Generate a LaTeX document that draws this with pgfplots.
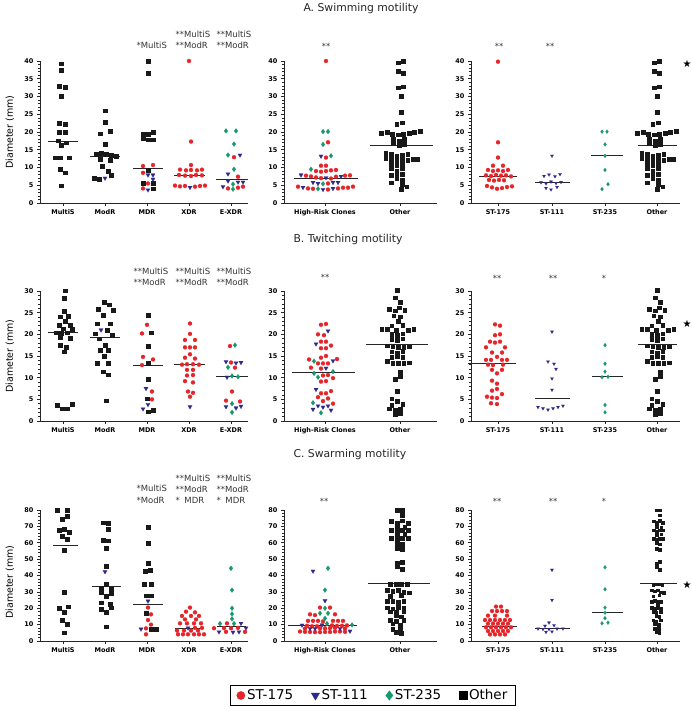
\documentclass[border=0pt]{standalone}
\usepackage{fontspec}
\setmainfont{DejaVu Sans}
\usepackage{pgfplots}
\pgfplotsset{compat=1.18}
\usepackage{pgfplotstable}
\definecolor{stred}{HTML}{E5252A}
\definecolor{stblue}{HTML}{2E2A8A}
\definecolor{stgreen}{HTML}{169A6C}
\newcommand\tlf{\fontsize{6.5}{7}\selectfont\bfseries}
\newcommand\anf{\fontsize{8.5}{9}\selectfont}
\newcommand\ttf{\fontsize{10.8}{12}\selectfont}

\pgfplotsset{
  panel/.style={
    scale only axis, anchor=south west, clip=false,
    axis x line=bottom, axis y line=left,
    axis line style={-, line width=0.8pt, black!85},
    tick align=outside, major tick length=3pt, minor tick length=1.7pt,
    every tick/.append style={black!85, line width=0.6pt},
    every minor tick/.append style={black!85, line width=0.5pt},
    ymin=0, minor x tick num=0,
    /pgf/number format/assume math mode=true,
    tick label style={font=\tlf},
    ylabel style={font=\fontsize{9.5}{11}\selectfont, at={(axis description cs:-0.145,0.5)}, anchor=center},
  },
  ptR/.style={only marks, mark=*, mark size=2.05pt, color=stred, mark options={line width=0.1pt}},
  ptB/.style={only marks, mark=triangle*, mark size=2.5pt, color=stblue, mark options={rotate=180, line width=0.1pt}},
  ptBs/.style={only marks, mark=triangle*, mark size=1.9pt, color=stblue, mark options={rotate=180, line width=0.1pt}},
  ptG/.style={only marks, mark=diamond*, mark size=2.5pt, color=stgreen, mark options={line width=0.1pt}},
  ptGs/.style={only marks, mark=diamond*, mark size=2.0pt, color=stgreen, mark options={line width=0.1pt}},
  ptK/.style={only marks, mark=square*, mark size=1.85pt, color=black!90, mark options={line width=0.1pt}},
  ptKs/.style={only marks, mark=square*, mark size=1.3pt, color=black!90, mark options={line width=0.1pt}},
  med/.style={black!85, line width=1pt, no marks},
}

\pgfplotstableread{
dx y
2 40.0
-3 39.6
-3 37.2
2 36.7
-3 32.5
2 32.8
0 30.1
0 25.7
-4 22.3
1 22.7
-18 19.8
-13 19.9
-8 19.5
-3 19.3
2 19.5
7 19.8
12 19.9
17 20.2
-7 18.0
-2 17.5
3 18.0
-7 16.8
-2 16.3
3 16.6
-14 14.0
-9 13.8
-4 13.2
1 13.5
6 13.8
-14 12.6
-9 12.3
-4 12.1
1 12.3
6 12.1
11 12.4
15 12.4
-9 11.0
-4 10.7
1 11.2
-9 9.7
1 9.8
-4 9.1
-9 7.9
-4 8.4
1 8.2
-4 7.0
1 6.5
-9 5.8
1 5.4
0 3.9
5 4.6
}\otherA

\pgfplotstableread{
dx y
-1 30.2
-3 28.5
2 27.4
1 26.2
-8 25.8
-3 25.5
6 25.6
-4 24.3
2 24.1
0 23.1
-6 22.0
4 22.2
-15 21.2
-10 21.2
-2 21.0
9 21.0
14 21.2
-6 20.1
4 20.2
-1 19.9
-6 18.9
-1 18.7
4 19.0
-10 17.4
-5 17.2
0 17.0
5 17.0
10 17.2
-6 16.0
-1 15.8
4 16.2
-6 14.8
-1 14.9
4 14.8
-10 13.9
-5 13.3
0 13.3
5 13.3
10 13.5
2 11.4
2 10.4
-3 9.6
-1 6.9
-6 5.2
-1 4.6
-6 3.7
4 3.9
-8 2.9
-3 2.6
2 2.9
-3 1.5
2 1.9
}\otherB

\pgfplotstableread{
dx y
-2 80
3 80
3 77
-7 73.3
-2 72.2
3 73.5
8 72.2
-2 69.8
5 69.4
-7 67.8
-2 66.9
3 67.8
8 67.8
-2 64.9
5 65.3
-7 62.7
-2 62.1
3 62.7
8 62.7
-2 59.7
3 59.2
-2 56.6
3 56.0
-2 47.4
3 48.4
-2 45.4
3 43.8
-8 34.6
-3 34.8
2 34.8
7 34.6
-11 31.1
-6 30.5
-1 31.1
4 30.0
9 29.5
-8 27.5
2 28.0
-11 24.2
-6 24.6
-1 24.0
4 24.2
-1 22.0
-11 20.5
-6 19.8
-1 20.5
4 20.0
-8 18.0
-3 17.6
4 18.0
-3 15.5
2 15.0
-8 12.8
-3 12.0
4 12.8
-6 10.6
1 10.0
-6 7.5
1 7.7
-3 5.5
2 5.0
}\otherC

\begin{document}
\begin{tikzpicture}
\useasboundingbox (0pt,0pt) rectangle (691pt,707pt);

% ---------------- titles ----------------
\node[anchor=west, font=\ttf, text=black!85] at (300pt,698pt) {A. Swimming motility};
\node[anchor=west, font=\ttf, text=black!85] at (290pt,467pt) {B. Twitching motility};
\node[anchor=west, font=\ttf, text=black!85] at (290pt,252pt) {C. Swarming motility};

% ================= ROW A =================
\begin{axis}[panel, at={(40pt,504pt)}, width=208pt, height=142pt,
  xmin=40, xmax=248, ymax=40, ytick={0,5,...,40}, minor y tick num=4,
  xtick={63,105,147,189,231}, xticklabels={MultiS,ModR,MDR,XDR,E-XDR},
  ylabel={Diameter (mm)}]
\addplot[ptK] coordinates {(61,39.3)(61,37.4)(59,33.0)(65,32.6)(61,30.2)(59,22.5)(65,22.3)(59,19.9)(65,19.9)(58,17.6)(66,17.0)(61,16.3)(55,12.8)(60,12.8)(69,12.8)(60,9.5)(65,8.6)(61,4.9)};
\addplot[ptK] coordinates {(105,26.0)(105,22.9)(100,19.6)(110,20.3)(105,16.6)(96,13.8)(101,14.0)(106,13.8)(111,13.6)(116,13.2)(100,12.3)(110,12.0)(102,10.4)(108,9.0)(111,7.9)(94,7.1)(99,6.7)};
\addplot[ptB] coordinates {(105,7.0)};
\addplot[ptK] coordinates {(148,40.0)(148,36.6)(143,19.6)(148,19.4)(153,19.9)(143,18.2)(148,17.9)(153,17.9)(148,9.3)(143,5.7)(153,5.7)(153,4.1)};
\addplot[ptR] coordinates {(143,10.4)(153,10.7)(143,8.5)(148,5.5)(143,4.1)};
\addplot[ptB] coordinates {(148,7.9)(153,7.9)(153,6.7)(148,3.7)};
\addplot[ptR] coordinates {(189,40.0)(191,17.3)(191,10.7)(180,9.4)(186,9.2)(191,9.3)(197,9.2)(202,9.4)(179,7.9)(185,7.7)(196,7.9)(202,7.8)(191,7.6)(175,4.9)(180,4.7)(185,4.8)(195,4.6)(200,4.8)(205,4.9)};
\addplot[ptB] coordinates {(190,4.4)};
\addplot[ptG] coordinates {(226,20.3)(236,20.3)(234,16.6)(228,13.5)(234,9.5)(233,5.3)(233,3.9)};
\addplot[ptR] coordinates {(234,12.9)(238,7.4)(228,4.1)(238,4.3)(243,4.6)};
\addplot[ptB] coordinates {(240,13.5)(228,8.2)(228,6.2)(238,5.9)(243,5.9)(223,4.6)};
\addplot[med] coordinates {(48,17.3)(78,17.3)};
\addplot[med] coordinates {(90,13.2)(120,13.2)};
\addplot[med] coordinates {(133,9.8)(163,9.8)};
\addplot[med] coordinates {(174,7.8)(205,7.8)};
\addplot[med] coordinates {(216,6.5)(248,6.5)};
\end{axis}

\begin{axis}[panel, at={(284pt,504pt)}, width=153pt, height=142pt,
  xmin=284, xmax=437, ymax=40, ytick={0,5,...,40}, minor y tick num=4,
  xtick={325,400}, xticklabels={High-Risk Clones,Other}]
\addplot[ptR] coordinates {(326,40)(328,17.1)(326,12.8)(321,10.5)(326,10.5)(316,9.0)(321,8.8)(326,9.0)(331,9.2)(336,9.3)(306,7.7)(311,7.5)(316,7.2)(321,7.0)(331,6.9)(336,7.4)(345,7.7)(350,7.8)(328,5.5)(298,4.6)(308,4.1)(313,4.0)(328,3.8)(338,4.1)(343,4.3)(348,4.3)(353,4.6)};
\addplot[ptB] coordinates {(321,13.2)(301,7.9)(341,7.5)(326,7.1)(313,5.8)(318,5.5)(333,5.8)(338,5.8)(303,4.4)(323,3.8)(333,4.1)};
\addplot[ptG] coordinates {(323,20.1)(328,20.1)(323,16.5)(331,13.3)(311,9.5)(323,5.4)(318,4.0)};
\addplot[ptK] table[x expr=1.1*\thisrow{dx}+401, y=y] {\otherA};
\addplot[med] coordinates {(294,7.0)(358,7.0)};
\addplot[med] coordinates {(370,16.1)(433,16.1)};
\end{axis}

\begin{axis}[panel, at={(471pt,504pt)}, width=209pt, height=142pt,
  xmin=471, xmax=680, ymax=40, ytick={0,5,...,40}, minor y tick num=4,
  xtick={498,552,605,657}, xticklabels={ST-175,ST-111,ST-235,Other}]
\addplot[ptR] coordinates {(498,39.8)(498,17.1)(498,12.8)(493,10.5)(503,10.5)(488,9.3)(493,9.0)(498,9.2)(503,9.0)(508,9.3)(486,7.8)(491,7.6)(496,7.9)(501,7.7)(506,7.8)(511,7.5)(489,6.5)(494,6.3)(499,6.5)(504,6.4)(487,4.8)(492,4.4)(497,4.0)(502,4.2)(507,4.5)(512,4.7)};
\addplot[ptBs] coordinates {(552,13.3)(544,7.6)(549,8.0)(555,7.5)(560,8.1)(541,5.8)(546,5.5)(551,6.0)(556,5.6)(561,5.9)(546,4.2)(551,3.8)(557,4.5)};
\addplot[ptGs] coordinates {(602,20.1)(607,20.1)(605,16.5)(605,13.3)(605,9.3)(608,5.3)(602,3.9)};
\addplot[ptK] table[x expr=1.1*\thisrow{dx}+657, y=y] {\otherA};
\addplot[med] coordinates {(479,7.4)(517,7.4)};
\addplot[med] coordinates {(535,5.8)(570,5.8)};
\addplot[med] coordinates {(591,13.3)(623,13.3)};
\addplot[med] coordinates {(638,16.1)(677,16.1)};
\end{axis}

\node[anchor=west, font=\anf, text=black!80] at (133pt,662pt) {*MultiS};
\node[anchor=west, font=\anf, text=black!80] at (172pt,673pt) {**MultiS};
\node[anchor=west, font=\anf, text=black!80] at (172pt,662pt) {**ModR};
\node[anchor=west, font=\anf, text=black!80] at (213pt,673pt) {**MultiS};
\node[anchor=west, font=\anf, text=black!80] at (213pt,662pt) {**ModR};
\node[font=\anf, text=black!80] at (326pt,661pt) {**};
\node[font=\anf, text=black!80] at (499pt,661pt) {**};
\node[font=\anf, text=black!80] at (550pt,661pt) {**};
\node[font=\fontsize{10}{11}\selectfont] at (687pt,643pt) {★};

% ================= ROW B =================
\begin{axis}[panel, at={(40pt,286pt)}, width=208pt, height=130pt,
  xmin=40, xmax=248, ymax=30, ytick={0,5,...,30}, minor y tick num=4,
  xtick={63,105,147,189,231}, xticklabels={MultiS,ModR,MDR,XDR,E-XDR},
  ylabel={Diameter (mm)}]
\addplot[ptK] coordinates {(65,30.1)(64,28.4)(64,25.4)(60,24.1)(68,24.2)(65,23.1)(59,22.1)(70,22.1)(63,21.3)(72,21.2)(56,20.4)(61,20.3)(67,20.4)(60,19.3)(70,19.1)(60,17.5)(66,17.1)(64,16.0)(57,3.7)(62,2.9)(67,2.9)(72,3.9)};
\addplot[ptK] coordinates {(104,27.5)(109,26.9)(98,25.8)(113,25.6)(103,24.5)(97,22.5)(110,22.5)(107,21.0)(95,20.2)(112,19.9)(99,19.0)(105,17.5)(100,16.4)(108,16.4)(104,15.0)(97,13.3)(108,13.3)(103,11.4)(108,10.7)(106,4.7)};
\addplot[ptB] coordinates {(101,21.0)};
\addplot[ptK] coordinates {(148,24.5)(151,20.4)(148,17.3)(148,13.3)(148,9.7)(147,5.2)(148,2.2)(153,2.5)};
\addplot[ptR] coordinates {(147,22.2)(142,20.2)(143,14.8)(153,14.2)(142,12.9)(152,6.8)(152,5.0)};
\addplot[ptB] coordinates {(146,7.5)(143,2.8)(148,3.8)};
\addplot[ptR] coordinates {(190,22.5)(190,20.1)(185,18.7)(195,18.7)(185,17.0)(190,17.0)(195,17.0)(190,15.4)(185,14.6)(195,14.4)(182,13.0)(187,13.1)(193,13.1)(199,13.0)(187,11.8)(193,11.8)(187,10.5)(193,10.6)(185,9.2)(193,8.9)(188,6.8)(193,6.5)(190,5.6)};
\addplot[ptB] coordinates {(190,3.3)};
\addplot[ptG] coordinates {(235,17.5)(228,12.4)(232,10.4)(238,10.2)(232,4.0)(232,2.0)};
\addplot[ptR] coordinates {(230,17.3)(231,13.5)(235,12.3)(232,6.8)(226,4.7)(240,4.5)};
\addplot[ptB] coordinates {(226,13.7)(236,13.4)(241,13.5)(227,10.1)(226,3.3)(236,3.0)(241,3.4)};
\addplot[med] coordinates {(48,20.4)(78,20.4)};
\addplot[med] coordinates {(90,19.3)(120,19.3)};
\addplot[med] coordinates {(133,12.9)(163,12.9)};
\addplot[med] coordinates {(174,13.0)(205,13.0)};
\addplot[med] coordinates {(216,10.2)(248,10.2)};
\end{axis}

\begin{axis}[panel, at={(284pt,286pt)}, width=153pt, height=130pt,
  xmin=284, xmax=437, ymax=30, ytick={0,5,...,30}, minor y tick num=4,
  xtick={325,400}, xticklabels={High-Risk Clones,Other}]
\addplot[ptR] coordinates {(321,22.2)(326,22.4)(318,20.0)(324,19.8)(321,18.3)(326,18.3)(331,17.4)(321,16.8)(326,16.8)(326,15.0)(321,14.6)(309,14.2)(337,14.3)(318,13.3)(323,13.3)(328,13.3)(311,12.3)(321,12.1)(323,10.5)(328,10.6)(333,9.9)(321,9.1)(326,9.2)(331,6.9)(321,6.4)(326,6.4)(318,5.5)(328,5.2)(323,4.6)(333,4.0)};
\addplot[ptB] coordinates {(328,20.8)(316,17.8)(333,13.9)(326,12.2)(316,7.3)(318,3.5)(323,3.2)(328,3.5)(331,2.5)(313,2.7)};
\addplot[ptG] coordinates {(314,13.8)(314,11.0)(333,11.4)(318,10.1)(313,4.2)(321,1.9)};
\addplot[ptK] table[x expr=1.1*\thisrow{dx}+398, y=y] {\otherB};
\addplot[med] coordinates {(292,11.2)(355,11.2)};
\addplot[med] coordinates {(366,17.7)(428,17.7)};
\end{axis}

\begin{axis}[panel, at={(471pt,286pt)}, width=209pt, height=130pt,
  xmin=471, xmax=680, ymax=30, ytick={0,5,...,30}, minor y tick num=4,
  xtick={498,552,605,657}, xticklabels={ST-175,ST-111,ST-235,Other}]
\addplot[ptR] coordinates {(495,22.3)(500,22.0)(495,19.8)(500,20.0)(490,18.3)(495,18.1)(500,18.3)(486,17.0)(505,17.0)(492,15.8)(502,15.8)(497,14.8)(486,14.1)(491,14.1)(502,14.1)(507,14.1)(488,13.0)(493,12.9)(503,13.0)(492,11.8)(502,11.8)(497,11.0)(492,9.3)(497,8.6)(497,7.4)(492,7.0)(502,6.2)(487,5.6)(492,5.4)(497,5.3)(491,4.1)(497,3.9)};
\addplot[ptBs] coordinates {(552,20.6)(548,13.7)(554,13.2)(556,12.0)(552,9.8)(552,7.2)(538,3.2)(543,2.9)(548,2.6)(553,2.9)(558,3.2)(563,3.5)};
\addplot[ptGs] coordinates {(605,17.5)(605,13.2)(605,11.4)(602,10.1)(608,10.2)(605,3.7)(605,2.0)};
\addplot[ptK] table[x expr=1.1*\thisrow{dx}+658, y=y] {\otherB};
\addplot[med] coordinates {(468,13.2)(516,13.2)};
\addplot[med] coordinates {(535,5.2)(570,5.2)};
\addplot[med] coordinates {(592,10.2)(623,10.2)};
\addplot[med] coordinates {(638,17.6)(677,17.6)};
\end{axis}

\node[anchor=west, font=\anf, text=black!80] at (130pt,436pt) {**MultiS};
\node[anchor=west, font=\anf, text=black!80] at (130pt,425pt) {**ModR};
\node[anchor=west, font=\anf, text=black!80] at (172pt,436pt) {**MultiS};
\node[anchor=west, font=\anf, text=black!80] at (172pt,425pt) {**ModR};
\node[anchor=west, font=\anf, text=black!80] at (213pt,436pt) {**MultiS};
\node[anchor=west, font=\anf, text=black!80] at (213pt,425pt) {**ModR};
\node[font=\anf, text=black!80] at (325pt,430pt) {**};
\node[font=\anf, text=black!80] at (497pt,429pt) {**};
\node[font=\anf, text=black!80] at (553pt,429pt) {**};
\node[font=\anf, text=black!80] at (604pt,429pt) {*};
\node[font=\fontsize{10}{11}\selectfont] at (687pt,383pt) {★};

% ================= ROW C =================
\begin{axis}[panel, at={(40pt,66pt)}, width=208pt, height=131pt,
  xmin=40, xmax=248, ymax=80, ytick={0,10,...,80}, minor y tick num=4,
  xtick={63,105,147,189,231}, xticklabels={MultiS,ModR,MDR,XDR,E-XDR},
  ylabel={Diameter (mm)}, ylabel style={at={(axis description cs:-0.145,0.45)}}]
\addplot[ptK] coordinates {(57,80)(67,80)(67,76.3)(62,74.3)(59,67.8)(64,68.4)(69,66.7)(62,64.0)(67,62.3)(64,55.6)(64,30.1)(59,20.0)(68,21.0)(64,17.6)(62,12.8)(67,10.4)(64,5.1)};
\addplot[ptK] coordinates {(103,72.3)(108,71.9)(108,68.2)(103,61.7)(108,61.3)(106,56.6)(106,45.8)(106,34.8)(101,32.2)(111,31.9)(101,29.5)(111,29.3)(106,27.3)(101,23.5)(110,22.5)(101,19.4)(111,20.4)(106,17.6)(106,8.8)};
\addplot[ptB] coordinates {(105,42.3)};
\addplot[ptK] coordinates {(148,69.8)(148,59.7)(148,47.8)(145,42.7)(150,43.3)(144,34.6)(151,34.6)(146,27.7)(151,27.7)(146,16.9)(151,7.3)(156,7.3)};
\addplot[ptB] coordinates {(148,24.4)(141,7.3)};
\addplot[ptR] coordinates {(148,20.4)(151,16.3)(148,12.8)(151,10.0)(146,7.7)(146,4.1)};
\addplot[ptR] coordinates {(190,20.4)(186,17.9)(195,17.5)(182,15.3)(191,15.3)(199,15.3)(185,13.2)(196,13.2)(180,10.8)(187,10.8)(194,10.8)(201,10.8)(195,8.0)(202,8.0)(177,6.4)(184,6.4)(191,6.4)(198,6.4)(178,4.1)(183,4.1)(188,4.1)(194,4.1)(199,4.1)(204,4.1)};
\addplot[ptB] coordinates {(188,8.0)};
\addplot[ptG] coordinates {(231,44.4)(232,31.1)(232,20.0)(232,16.5)(232,13.5)(220,10.6)(234,10.6)};
\addplot[ptR] coordinates {(227,10.8)(214,7.8)(224,7.9)(231,7.8)(238,8.0)(226,5.6)(245,5.6)};
\addplot[ptB] coordinates {(241,10.8)(246,8.0)(219,5.6)(233,5.4)(239,5.6)};
\addplot[med] coordinates {(53,58.6)(78,58.6)};
\addplot[med] coordinates {(92,33.2)(121,33.2)};
\addplot[med] coordinates {(133,22.0)(163,22.0)};
\addplot[med] coordinates {(175,7.7)(204,7.7)};
\addplot[med] coordinates {(217,8.8)(246,8.8)};
\end{axis}

\begin{axis}[panel, at={(284pt,66pt)}, width=153pt, height=131pt,
  xmin=284, xmax=437, ymax=80, ytick={0,10,...,80}, minor y tick num=4,
  xtick={325,400}, xticklabels={High-Risk Clones,Other}]
\addplot[ptR] coordinates {(320,20.4)(330,20.4)(310,16.3)(315,15.8)(335,16.3)(308,12.3)(313,12.3)(318,12.3)(323,12.0)(333,12.3)(338,12.3)(343,12.3)(307,9.3)(312,9.0)(317,9.0)(332,9.5)(337,9.2)(342,9.3)(347,9.5)(305,7.6)(320,7.8)(325,7.8)(330,7.9)(335,8.0)(345,7.6)(300,5.8)(305,5.6)(310,5.5)(315,5.4)(320,5.4)(325,5.5)(330,5.5)(335,5.8)(340,5.8)(345,5.6)};
\addplot[ptB] coordinates {(313,42.7)(325,24.6)(302,9.7)(322,9.8)(310,7.6)(315,7.6)(340,7.6)(350,6.0)};
\addplot[ptG] coordinates {(328,44.4)(325,31.1)(325,20.0)(320,16.9)(328,16.9)(325,13.8)(327,10.6)(352,9.8)};
\addplot[ptK] table[x expr=1.1*\thisrow{dx}+399, y=y] {\otherC};
\addplot[med] coordinates {(288,9.4)(357,9.4)};
\addplot[med] coordinates {(368,35.2)(430,35.2)};
\end{axis}

\begin{axis}[panel, at={(471pt,66pt)}, width=209pt, height=131pt,
  xmin=471, xmax=680, ymax=80, ytick={0,10,...,80}, minor y tick num=4,
  xtick={498,552,605,657}, xticklabels={ST-175,ST-111,ST-235,Other}]
\addplot[ptR] coordinates {(496,21.0)(501,21.0)(492,18.3)(497,18.3)(502,18.3)(507,18.3)(488,15.5)(495,15.5)(507,15.5)(485,12.8)(490,12.8)(495,12.8)(500,12.8)(505,12.8)(510,12.8)(488,10.6)(493,10.6)(498,10.6)(503,10.6)(508,10.6)(486,8.4)(491,8.4)(496,8.4)(501,8.4)(506,8.4)(511,8.4)(488,6.1)(493,6.1)(498,6.1)(503,6.1)(508,6.1)(490,4.0)(495,4.0)(500,4.0)(505,4.0)};
\addplot[ptBs] coordinates {(552,43.4)(552,25.0)(549,11.2)(545,9.2)(554,9.6)(538,7.5)(543,7.3)(549,7.2)(557,7.5)(563,7.6)(546,5.5)(552,5.8)};
\addplot[ptGs] coordinates {(605,45.0)(605,31.6)(605,20.4)(605,17.3)(605,13.9)(602,10.8)(608,11.2)};
\addplot[ptKs] table[x expr=0.6*\thisrow{dx}+658, y=y] {\otherC};
\addplot[med] coordinates {(482,8.8)(517,8.8)};
\addplot[med] coordinates {(535,7.7)(570,7.7)};
\addplot[med] coordinates {(592,17.1)(623,17.1)};
\addplot[med] coordinates {(640,35.2)(677,35.2)};
\end{axis}

\node[anchor=west, font=\anf, text=black!80] at (133pt,219pt) {*MultiS};
\node[anchor=west, font=\anf, text=black!80] at (133pt,207pt) {*ModR};
\node[anchor=west, font=\anf, text=black!80] at (172pt,229pt) {**MultiS};
\node[anchor=west, font=\anf, text=black!80] at (172pt,218pt) {**ModR};
\node[anchor=west, font=\anf, text=black!80] at (172pt,207pt) {*\hspace{0.55em}MDR};
\node[anchor=west, font=\anf, text=black!80] at (213pt,229pt) {**MultiS};
\node[anchor=west, font=\anf, text=black!80] at (213pt,218pt) {**ModR};
\node[anchor=west, font=\anf, text=black!80] at (213pt,207pt) {*\hspace{0.55em}MDR};
\node[font=\anf, text=black!80] at (324pt,206pt) {**};
\node[font=\anf, text=black!80] at (497pt,206pt) {**};
\node[font=\anf, text=black!80] at (553pt,206pt) {**};
\node[font=\anf, text=black!80] at (604pt,206pt) {*};
\node[font=\fontsize{10}{11}\selectfont] at (687pt,122pt) {★};

% ================= LEGEND =================
\begin{axis}[hide axis, scale only axis, width=20pt, height=10pt,
  at={(373pt,11.5pt)}, anchor=center, xmin=0, xmax=1, ymin=0, ymax=1,
  legend columns=4,
  legend style={at={(0.5,0.5)}, anchor=center, draw=black, line width=0.9pt,
    font=\fontsize{13.5}{15}\selectfont, inner xsep=6pt, inner ysep=2.5pt,
    /tikz/every even column/.append style={column sep=16pt}},
  legend image code/.code={\draw[#1, line width=0.2pt, mark repeat=2, mark phase=2] plot coordinates {(0pt,0pt) (6pt,0pt) (12pt,0pt)};}]
\addlegendimage{only marks, mark=*, mark size=4.2pt, color=stred}
\addlegendentry{ST-175}
\addlegendimage{only marks, mark=triangle*, mark size=4.8pt, color=stblue, mark options={rotate=180}}
\addlegendentry{ST-111}
\addlegendimage{only marks, mark=diamond*, mark size=4.8pt, color=stgreen}
\addlegendentry{ST-235}
\addlegendimage{only marks, mark=square*, mark size=3.9pt, color=black}
\addlegendentry{Other}
\end{axis}
\end{tikzpicture}
\end{document}
